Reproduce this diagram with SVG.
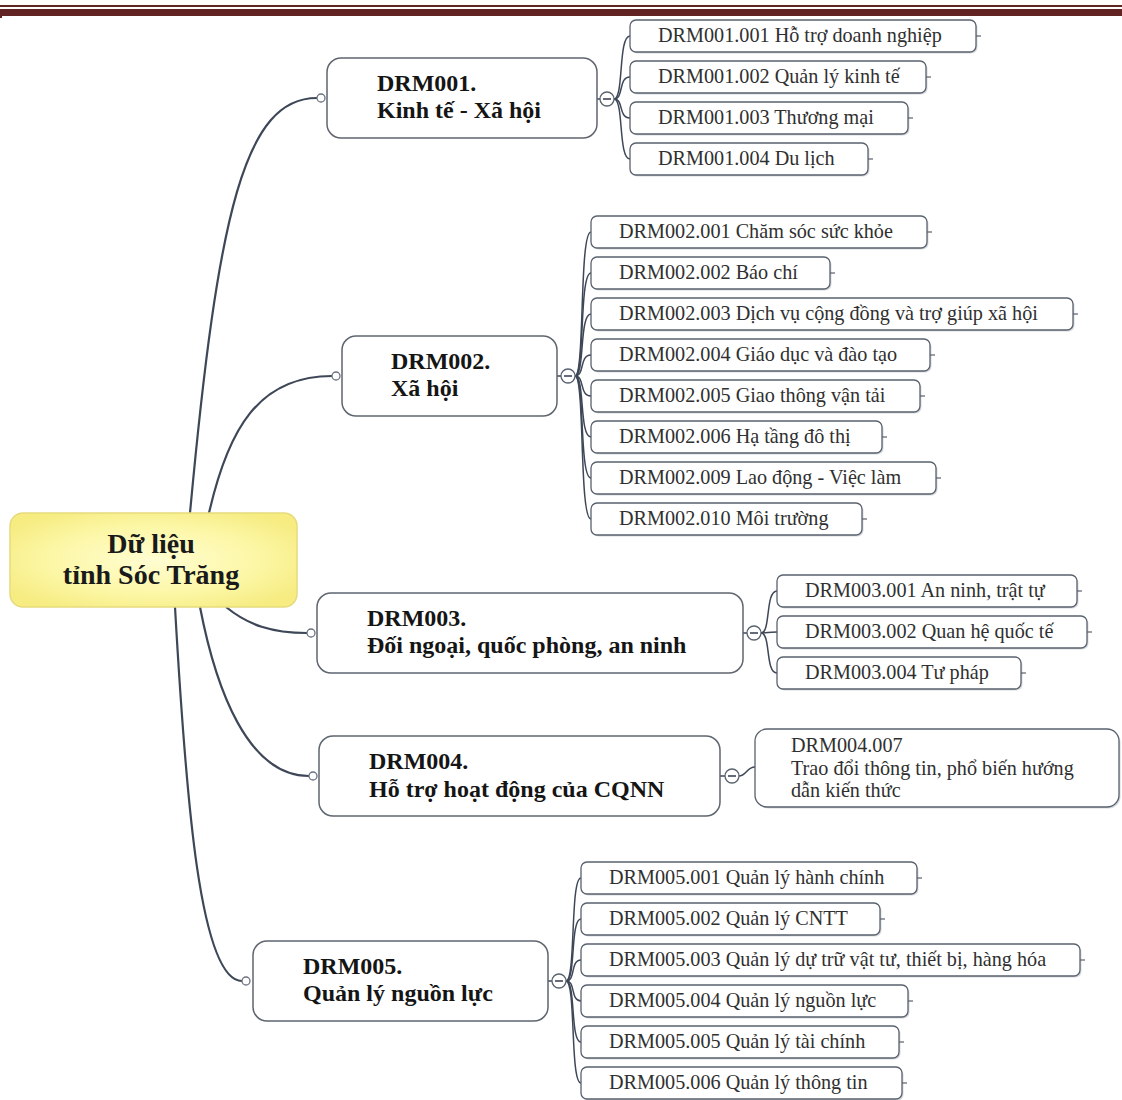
<svg xmlns="http://www.w3.org/2000/svg" width="1122" height="1100" viewBox="0 0 1122 1100">
  <style>
    .rootTxt { font-family: "Liberation Serif", "Times New Roman", serif; font-weight: bold; font-size: 28px; fill: #1a1a1a; text-anchor: middle; }
    .mainBox { fill: #ffffff; stroke: #5f6670; stroke-width: 1.5; }
    .mainTxt { font-family: "Liberation Serif", "Times New Roman", serif; font-weight: bold; font-size: 24px; fill: #151515; }
    .leafBox { fill: #ffffff; stroke: #59626e; stroke-width: 1.3; }
    .leafShadow { fill: #d6d9dd; }
    .leafTxt { font-family: "Liberation Serif", "Times New Roman", serif; font-size: 20.2px; fill: #303030; }
    .stub { stroke: #59626e; stroke-width: 1.2; fill: none; }
    .trunk { fill: none; stroke: #3d4757; stroke-width: 2.2; }
    .twig { fill: none; stroke: #3d4757; stroke-width: 1.5; }
    .dot { fill: #ffffff; stroke: #6a7380; stroke-width: 1.3; }
    .toggle { fill: #ffffff; stroke: #59626e; stroke-width: 1.3; }
    .minus { stroke: #3d4757; stroke-width: 1.6; }
  </style>
  <defs>
    <radialGradient id="rootFill" cx="50%" cy="50%" r="60%">
      <stop offset="0" stop-color="#fffdd2"/>
      <stop offset="0.6" stop-color="#fcf7a6"/>
      <stop offset="1" stop-color="#f6ec82"/>
    </radialGradient>
  </defs>

  <!-- page header rule -->
  <g id="header-rule">
    <rect x="0" y="5" width="1122" height="2" fill="#622423"/>
    <rect x="0" y="9" width="1122" height="7" fill="#622423"/>
    <rect x="0" y="16" width="2" height="2" fill="#622423"/>
  </g>

  <!-- connectors -->
  <g id="connectors">
    <!-- root to main topics -->
    <path class="trunk" d="M190,513 C218,210 245,98 317,98"/>
    <path class="trunk" d="M209,513 C228,430 258,376 332,376"/>
    <path class="trunk" d="M226,607 C248,625 272,633 307,633"/>
    <path class="trunk" d="M200,607 C216,690 248,776 309,776"/>
    <path class="trunk" d="M175,607 C186,800 200,981 242,981"/>

    <!-- DRM001 branch -->
    <path class="twig" d="M597,99 L600,99"/>
    <path class="twig" d="M614,99 C624,99 618,36 630,36"/>
    <path class="twig" d="M614,99 C624,99 618,77 630,77"/>
    <path class="twig" d="M614,99 C624,99 618,118 630,118"/>
    <path class="twig" d="M614,99 C624,99 618,159 630,159"/>

    <!-- DRM002 branch -->
    <path class="twig" d="M557,376 L561,376"/>
    <path class="twig" d="M575,376 C585,376 579,232 591,232"/>
    <path class="twig" d="M575,376 C585,376 579,273 591,273"/>
    <path class="twig" d="M575,376 C585,376 579,314 591,314"/>
    <path class="twig" d="M575,376 C585,376 579,355 591,355"/>
    <path class="twig" d="M575,376 C585,376 579,396 591,396"/>
    <path class="twig" d="M575,376 C585,376 579,437 591,437"/>
    <path class="twig" d="M575,376 C585,376 579,478 591,478"/>
    <path class="twig" d="M575,376 C585,376 579,519 591,519"/>

    <!-- DRM003 branch -->
    <path class="twig" d="M743,633 L747,633"/>
    <path class="twig" d="M761,633 C771,633 765,591 777,591"/>
    <path class="twig" d="M761,633 C771,633 765,632 777,632"/>
    <path class="twig" d="M761,633 C771,633 765,673 777,673"/>

    <!-- DRM004 branch -->
    <path class="twig" d="M720,776 L725,776"/>
    <path class="twig" d="M739,776 C746,776 747,767 755,767"/>

    <!-- DRM005 branch -->
    <path class="twig" d="M548,981 L552,981"/>
    <path class="twig" d="M566,981 C576,981 570,878 581,878"/>
    <path class="twig" d="M566,981 C576,981 570,919 581,919"/>
    <path class="twig" d="M566,981 C576,981 570,960 581,960"/>
    <path class="twig" d="M566,981 C576,981 570,1001 581,1001"/>
    <path class="twig" d="M566,981 C576,981 570,1042 581,1042"/>
    <path class="twig" d="M566,981 C576,981 570,1083 581,1083"/>
  </g>

  <!-- central topic -->
  <g id="root">
    <rect x="10" y="513" width="287" height="94" rx="13" fill="url(#rootFill)" stroke="#e6db7c" stroke-width="1.5"/>
    <text class="rootTxt" x="151" y="553">Dữ liệu</text>
    <text class="rootTxt" x="151" y="584">tỉnh Sóc Trăng</text>
  </g>

  <!-- main topics -->
  <g id="drm001">
    <rect class="mainBox" x="327" y="58" width="270" height="80" rx="14"/>
    <text class="mainTxt" x="377" y="91">DRM001.</text>
    <text class="mainTxt" x="377" y="118">Kinh tế - Xã hội</text>
    <circle class="dot" cx="321" cy="98" r="4"/>
    <circle class="toggle" cx="607" cy="99" r="7"/>
    <line class="minus" x1="603" y1="99" x2="611" y2="99"/>
  </g>
  <g id="drm002">
    <rect class="mainBox" x="342" y="336" width="215" height="80" rx="14"/>
    <text class="mainTxt" x="391" y="369">DRM002.</text>
    <text class="mainTxt" x="391" y="396">Xã hội</text>
    <circle class="dot" cx="336" cy="376" r="4"/>
    <circle class="toggle" cx="568" cy="376" r="7"/>
    <line class="minus" x1="564" y1="376" x2="572" y2="376"/>
  </g>
  <g id="drm003">
    <rect class="mainBox" x="317" y="593" width="426" height="80" rx="14"/>
    <text class="mainTxt" x="367" y="626">DRM003.</text>
    <text class="mainTxt" x="367" y="653">Đối ngoại, quốc phòng, an ninh</text>
    <circle class="dot" cx="311" cy="633" r="4"/>
    <circle class="toggle" cx="754" cy="633" r="7"/>
    <line class="minus" x1="750" y1="633" x2="758" y2="633"/>
  </g>
  <g id="drm004">
    <rect class="mainBox" x="319" y="736" width="401" height="80" rx="14"/>
    <text class="mainTxt" x="369" y="769">DRM004.</text>
    <text class="mainTxt" x="369" y="797">Hỗ trợ hoạt động của CQNN</text>
    <circle class="dot" cx="313" cy="776" r="4"/>
    <circle class="toggle" cx="732" cy="776" r="7"/>
    <line class="minus" x1="728" y1="776" x2="736" y2="776"/>
  </g>
  <g id="drm005">
    <rect class="mainBox" x="253" y="941" width="295" height="80" rx="14"/>
    <text class="mainTxt" x="303" y="974">DRM005.</text>
    <text class="mainTxt" x="303" y="1001">Quản lý nguồn lực</text>
    <circle class="dot" cx="246" cy="981" r="4"/>
    <circle class="toggle" cx="559" cy="981" r="7"/>
    <line class="minus" x1="555" y1="981" x2="563" y2="981"/>
  </g>

  <!-- DRM001 subtopics -->
  <g id="drm001-001">
    <rect class="leafShadow" x="631.5" y="21.5" width="346" height="32" rx="6"/>
    <rect class="leafBox" x="630" y="20" width="346" height="32" rx="6"/>
    <line class="stub" x1="976" y1="36" x2="981" y2="36"/>
    <text class="leafTxt" x="658" y="42">DRM001.001 Hỗ trợ doanh nghiệp</text>
  </g>
  <g id="drm001-002">
    <rect class="leafShadow" x="631.5" y="62.5" width="296" height="32" rx="6"/>
    <rect class="leafBox" x="630" y="61" width="296" height="32" rx="6"/>
    <line class="stub" x1="926" y1="77" x2="931" y2="77"/>
    <text class="leafTxt" x="658" y="83">DRM001.002 Quản lý kinh tế</text>
  </g>
  <g id="drm001-003">
    <rect class="leafShadow" x="631.5" y="103.5" width="278" height="32" rx="6"/>
    <rect class="leafBox" x="630" y="102" width="278" height="32" rx="6"/>
    <line class="stub" x1="908" y1="118" x2="913" y2="118"/>
    <text class="leafTxt" x="658" y="124">DRM001.003 Thương mại</text>
  </g>
  <g id="drm001-004">
    <rect class="leafShadow" x="631.5" y="144.5" width="238" height="32" rx="6"/>
    <rect class="leafBox" x="630" y="143" width="238" height="32" rx="6"/>
    <line class="stub" x1="868" y1="159" x2="873" y2="159"/>
    <text class="leafTxt" x="658" y="165">DRM001.004 Du lịch</text>
  </g>

  <!-- DRM002 subtopics -->
  <g id="drm002-001">
    <rect class="leafShadow" x="592.5" y="217.5" width="336" height="32" rx="6"/>
    <rect class="leafBox" x="591" y="216" width="336" height="32" rx="6"/>
    <line class="stub" x1="927" y1="232" x2="932" y2="232"/>
    <text class="leafTxt" x="619" y="238">DRM002.001 Chăm sóc sức khỏe</text>
  </g>
  <g id="drm002-002">
    <rect class="leafShadow" x="592.5" y="258.5" width="239" height="32" rx="6"/>
    <rect class="leafBox" x="591" y="257" width="239" height="32" rx="6"/>
    <line class="stub" x1="830" y1="273" x2="835" y2="273"/>
    <text class="leafTxt" x="619" y="279">DRM002.002 Báo chí</text>
  </g>
  <g id="drm002-003">
    <rect class="leafShadow" x="592.5" y="299.5" width="482" height="32" rx="6"/>
    <rect class="leafBox" x="591" y="298" width="482" height="32" rx="6"/>
    <line class="stub" x1="1073" y1="314" x2="1078" y2="314"/>
    <text class="leafTxt" x="619" y="320">DRM002.003 Dịch vụ cộng đồng và trợ giúp xã hội</text>
  </g>
  <g id="drm002-004">
    <rect class="leafShadow" x="592.5" y="340.5" width="339" height="32" rx="6"/>
    <rect class="leafBox" x="591" y="339" width="339" height="32" rx="6"/>
    <line class="stub" x1="930" y1="355" x2="935" y2="355"/>
    <text class="leafTxt" x="619" y="361">DRM002.004 Giáo dục và đào tạo</text>
  </g>
  <g id="drm002-005">
    <rect class="leafShadow" x="592.5" y="381.5" width="329" height="32" rx="6"/>
    <rect class="leafBox" x="591" y="380" width="329" height="32" rx="6"/>
    <line class="stub" x1="920" y1="396" x2="925" y2="396"/>
    <text class="leafTxt" x="619" y="402">DRM002.005 Giao thông vận tải</text>
  </g>
  <g id="drm002-006">
    <rect class="leafShadow" x="592.5" y="422.5" width="291" height="32" rx="6"/>
    <rect class="leafBox" x="591" y="421" width="291" height="32" rx="6"/>
    <line class="stub" x1="882" y1="437" x2="887" y2="437"/>
    <text class="leafTxt" x="619" y="443">DRM002.006 Hạ tầng đô thị</text>
  </g>
  <g id="drm002-009">
    <rect class="leafShadow" x="592.5" y="463.5" width="345" height="32" rx="6"/>
    <rect class="leafBox" x="591" y="462" width="345" height="32" rx="6"/>
    <line class="stub" x1="936" y1="478" x2="941" y2="478"/>
    <text class="leafTxt" x="619" y="484">DRM002.009 Lao động - Việc làm</text>
  </g>
  <g id="drm002-010">
    <rect class="leafShadow" x="592.5" y="504.5" width="271" height="32" rx="6"/>
    <rect class="leafBox" x="591" y="503" width="271" height="32" rx="6"/>
    <line class="stub" x1="862" y1="519" x2="867" y2="519"/>
    <text class="leafTxt" x="619" y="525">DRM002.010 Môi trường</text>
  </g>

  <!-- DRM003 subtopics -->
  <g id="drm003-001">
    <rect class="leafShadow" x="778.5" y="576.5" width="300" height="32" rx="6"/>
    <rect class="leafBox" x="777" y="575" width="300" height="32" rx="6"/>
    <line class="stub" x1="1077" y1="591" x2="1082" y2="591"/>
    <text class="leafTxt" x="805" y="597">DRM003.001 An ninh, trật tự</text>
  </g>
  <g id="drm003-002">
    <rect class="leafShadow" x="778.5" y="617.5" width="310" height="32" rx="6"/>
    <rect class="leafBox" x="777" y="616" width="310" height="32" rx="6"/>
    <line class="stub" x1="1087" y1="632" x2="1092" y2="632"/>
    <text class="leafTxt" x="805" y="638">DRM003.002 Quan hệ quốc tế</text>
  </g>
  <g id="drm003-004">
    <rect class="leafShadow" x="778.5" y="658.5" width="244" height="32" rx="6"/>
    <rect class="leafBox" x="777" y="657" width="244" height="32" rx="6"/>
    <line class="stub" x1="1021" y1="673" x2="1026" y2="673"/>
    <text class="leafTxt" x="805" y="679">DRM003.004 Tư pháp</text>
  </g>

  <!-- DRM004 subtopic -->
  <g id="drm004-007">
    <rect class="leafShadow" x="756.5" y="730.5" width="364" height="78" rx="12"/>
    <rect class="leafBox" x="755" y="729" width="364" height="78" rx="12"/>
    <text class="leafTxt" x="791" y="752">DRM004.007</text>
    <text class="leafTxt" x="791" y="775">Trao đổi thông tin, phổ biến hướng</text>
    <text class="leafTxt" x="791" y="797">dẫn kiến thức</text>
  </g>

  <!-- DRM005 subtopics -->
  <g id="drm005-001">
    <rect class="leafShadow" x="582.5" y="863.5" width="336" height="32" rx="6"/>
    <rect class="leafBox" x="581" y="862" width="336" height="32" rx="6"/>
    <line class="stub" x1="917" y1="878" x2="922" y2="878"/>
    <text class="leafTxt" x="609" y="884">DRM005.001 Quản lý hành chính</text>
  </g>
  <g id="drm005-002">
    <rect class="leafShadow" x="582.5" y="904.5" width="299" height="32" rx="6"/>
    <rect class="leafBox" x="581" y="903" width="299" height="32" rx="6"/>
    <line class="stub" x1="880" y1="919" x2="885" y2="919"/>
    <text class="leafTxt" x="609" y="925">DRM005.002 Quản lý CNTT</text>
  </g>
  <g id="drm005-003">
    <rect class="leafShadow" x="582.5" y="945.5" width="499" height="32" rx="6"/>
    <rect class="leafBox" x="581" y="944" width="499" height="32" rx="6"/>
    <line class="stub" x1="1080" y1="960" x2="1085" y2="960"/>
    <text class="leafTxt" x="609" y="966">DRM005.003 Quản lý dự trữ vật tư, thiết bị, hàng hóa</text>
  </g>
  <g id="drm005-004">
    <rect class="leafShadow" x="582.5" y="986.5" width="327" height="32" rx="6"/>
    <rect class="leafBox" x="581" y="985" width="327" height="32" rx="6"/>
    <line class="stub" x1="908" y1="1001" x2="913" y2="1001"/>
    <text class="leafTxt" x="609" y="1007">DRM005.004 Quản lý nguồn lực</text>
  </g>
  <g id="drm005-005">
    <rect class="leafShadow" x="582.5" y="1027.5" width="318" height="32" rx="6"/>
    <rect class="leafBox" x="581" y="1026" width="318" height="32" rx="6"/>
    <line class="stub" x1="899" y1="1042" x2="904" y2="1042"/>
    <text class="leafTxt" x="609" y="1048">DRM005.005 Quản lý tài chính</text>
  </g>
  <g id="drm005-006">
    <rect class="leafShadow" x="582.5" y="1068.5" width="321" height="32" rx="6"/>
    <rect class="leafBox" x="581" y="1067" width="321" height="32" rx="6"/>
    <line class="stub" x1="902" y1="1083" x2="907" y2="1083"/>
    <text class="leafTxt" x="609" y="1089">DRM005.006 Quản lý thông tin</text>
  </g>
</svg>
